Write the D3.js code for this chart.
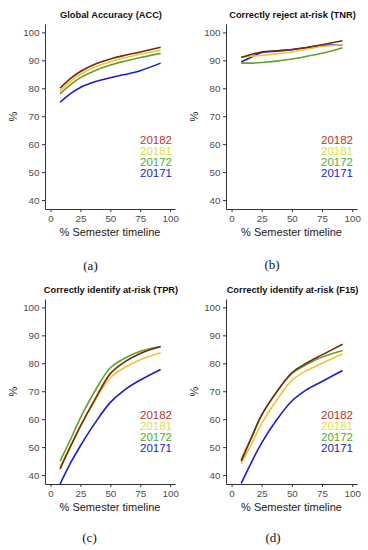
<!DOCTYPE html>
<html>
<head>
<meta charset="utf-8">
<script src="https://cdn.jsdelivr.net/npm/d3@7"></script>
<style>
  html, body { margin: 0; padding: 0; background: #fff; }
  svg { display: block; }
</style>
</head>
<body>
<svg id="chart" width="368" height="550"></svg>
<script>
// ---------- data ----------
const years = ["20182", "20181", "20172", "20171"];
const timeline = [8, 17, 25, 37, 50, 62, 75, 92];
const yTicks = [40, 50, 60, 70, 80, 90, 100];
const xTicks = [0, 25, 50, 75, 100];

const panelTitles = ["Global Accuracy (ACC)", "Correctly reject at-risk (TNR)", "Correctly identify at-risk (TPR)", "Correctly identify at-risk (F15)"];
const panelLetters = ["(a)", "(b)", "(c)", "(d)"];

const acc20182 = [80, 83.6, 86, 88.6, 90.5, 91.8, 93, 94.7];
const acc20181 = [79, 82.6, 85, 87.6, 89.5, 90.9, 92.2, 93.6];
const acc20172 = [78, 81.4, 83.8, 86.3, 88.3, 89.7, 91, 92.5];
const acc20171 = [75, 78.2, 80.3, 82.3, 83.8, 84.9, 86.3, 89.0];

const tnr20182 = [91, 92.2, 93, 93.4, 93.9, 94.6, 95.6, 97];
const tnr20181 = [91.3, 91.5, 91.8, 92.3, 93, 94, 95, 95.5];
const tnr20172 = [89, 89, 89.2, 89.7, 90.5, 91.4, 92.5, 94.5];
const tnr20171 = [89.4, 91.3, 92.8, 93.3, 93.8, 94.5, 95.3, 95.4];

const tpr20182 = [42.2, 50.5, 57.5, 67, 76.3, 80.5, 83.5, 86];
const tpr20181 = [43, 50.5, 57.5, 66.5, 74.8, 78.5, 81.3, 83.8];
const tpr20172 = [45, 53, 60.5, 70, 78.4, 81.8, 84.3, 86];
const tpr20171 = [36.8, 44.5, 50.5, 58.5, 66, 70.5, 74, 77.8];

const f1520182 = [45, 53.8, 61.5, 69.5, 76.6, 80, 83, 86.8];
const f1520181 = [44, 51.5, 58.5, 66.5, 73.9, 77.3, 80, 83.3];
const f1520172 = [45.5, 54, 61.5, 69.5, 76.3, 79.5, 82.2, 84.6];
const f1520171 = [37, 45, 51.5, 59.5, 66.5, 70.5, 73.5, 77.4];

const panelSeries = [
  [acc20182, acc20181, acc20172, acc20171],
  [tnr20182, tnr20181, tnr20172, tnr20171],
  [tpr20182, tpr20181, tpr20172, tpr20171],
  [f1520182, f1520181, f1520172, f1520171]
];

// ---------- styling ----------
const lineColors = ["#6e2a12", "#f2c234", "#62a02a", "#1c1cc8"];
const legendColors = ["#c0302a", "#e2e03c", "#4caf2c", "#2222c4"];

const layout = [
  {left: 45, top: 24, w: 130, h: 185},
  {left: 226, top: 24, w: 131, h: 185},
  {left: 45, top: 299, w: 130, h: 185},
  {left: 226, top: 299, w: 131, h: 185}
];
const letterPos = [[90.5, 269.5], [272, 268.5], [89.5, 541.5], [273, 541.5]];

const svg = d3.select("#chart");
const font = "'Liberation Sans', Arial, sans-serif";

layout.forEach((p, pi) => {
  const g = svg.append("g").attr("transform", `translate(${p.left},${p.top})`);
  const x = d3.scaleLinear().domain([-4.6, 104]).range([0, p.w]);
  const y = d3.scaleLinear().domain([36.8, 103]).range([p.h, 0]);

  const clipId = "clip" + pi;
  g.append("clipPath").attr("id", clipId)
    .append("rect").attr("x", 0).attr("y", 0).attr("width", p.w).attr("height", p.h);

  // axes
  const yAxis = g.append("g")
    .call(d3.axisLeft(y).tickValues(yTicks).tickSize(3).tickSizeOuter(0).tickPadding(2.5));
  const xAxis = g.append("g").attr("transform", `translate(0,${p.h})`)
    .call(d3.axisBottom(x).tickValues(xTicks).tickSize(3).tickSizeOuter(0).tickPadding(3.5));
  [yAxis, xAxis].forEach(ax => {
    ax.select(".domain").attr("stroke", "#333").attr("stroke-width", 1);
    ax.selectAll(".tick line").attr("stroke", "#333").attr("stroke-width", 1);
    ax.selectAll(".tick text").attr("fill", "#4d4d4d").style("font-family", font).style("font-size", "9.8px");
  });

  // lines
  const line = d3.line()
    .x((d, i) => x(timeline[i]))
    .y(d => y(d))
    .curve(d3.curveCatmullRom.alpha(0.5));
  const series = panelSeries[pi];
  const order = [3, 2, 1, 0];
  order.forEach(si => {
    g.append("path")
      .attr("clip-path", `url(#${clipId})`)
      .attr("d", line(series[si]))
      .attr("fill", "none")
      .attr("stroke", lineColors[si])
      .attr("stroke-width", 1.6);
  });

  // legend
  years.forEach((yr, i) => {
    g.append("text")
      .attr("x", 127)
      .attr("y", 115.5 + i * 11.3 + 4)
      .attr("text-anchor", "end")
      .attr("fill", legendColors[i])
      .style("font-family", font)
      .style("font-size", "11.5px")
      .text(yr);
  });

  // title
  g.append("text")
    .attr("x", p.w / 2 + 1)
    .attr("y", -6.5)
    .attr("text-anchor", "middle")
    .attr("fill", "#111")
    .style("font-family", font)
    .style("font-weight", "bold")
    .style("font-size", "9.3px")
    .text(panelTitles[pi]);

  // x axis title
  g.append("text")
    .attr("x", p.w / 2)
    .attr("y", p.h + 27)
    .attr("text-anchor", "middle")
    .attr("fill", "#1a1a1a")
    .style("font-family", font)
    .style("font-size", "11px")
    .text("% Semester timeline");

  // y axis title
  g.append("text")
    .attr("transform", `translate(-28,${p.h / 2}) rotate(-90)`)
    .attr("text-anchor", "middle")
    .attr("fill", "#1a1a1a")
    .style("font-family", font)
    .style("font-size", "11px")
    .text("%");

  // panel letter
  svg.append("text")
    .attr("x", letterPos[pi][0])
    .attr("y", letterPos[pi][1])
    .attr("text-anchor", "middle")
    .attr("fill", "#111")
    .style("font-family", "'Liberation Serif', 'Times New Roman', serif")
    .style("font-size", "13px")
    .text(panelLetters[pi]);
});
</script>
</body>
</html>
